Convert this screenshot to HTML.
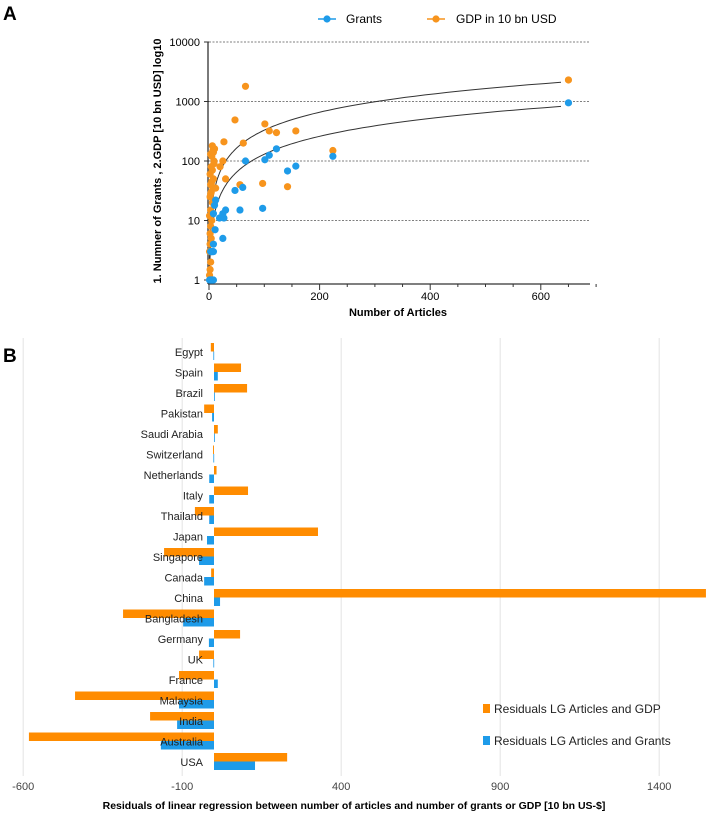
<!DOCTYPE html>
<html><head><meta charset="utf-8"><style>
body{margin:0;background:#fff;font-family:"Liberation Sans",sans-serif}
svg{display:block}
</style></head><body>
<svg id="chart" width="709" height="815" xmlns="http://www.w3.org/2000/svg">
<text x="3" y="20" font-size="19" font-weight="bold">A</text>
<text x="3" y="362" font-size="19" font-weight="bold">B</text>
<g id="pa"></g>
<g id="pb"></g>
</svg>
<script>
const NS="http://www.w3.org/2000/svg";
function mk(p,t,a,txt){const e=document.createElementNS(NS,t);for(const k in a)e.setAttribute(k,a[k]);if(txt!==undefined)e.textContent=txt;p.appendChild(e);return e;}

// Panel A data
const grantsX=[1,2,3,4,5,6,7,8,3,4,5,6,8,8,11,8,10,12,19,25,27,30,25,47,56,61,66,97,101,109,122,142,157,224,650];
const grantsY=[1,1,1,1,1,1,1,1,3,3,3,3,3,4,7,13,18,22,11,13,11,15,5,32,15,36,100,16,105,125,160,68,82,120,950];
const gdpX=[1,2,3,1,2,4,2,3,5,1,3,6,2,4,7,3,5,8,2,6,4,9,5,3,7,10,6,8,4,12,9,3,66,47,101,109,122,157,27,62,56,97,142,224,30,25,20,650];
const gdpY=[1.2,1.5,2,3,4,5,6,8,10,12,15,20,25,30,35,40,45,50,60,70,80,100,120,130,150,160,180,140,40,35,90,28,1800,490,420,320,300,320,210,200,40,42,37,150,50,100,80,2300];
const fitSlopes=[3.3,1.3];
const xTicksA=[0,200,400,600];
const yTicksA=[1,10,100,1000,10000];

const pa=document.getElementById('pa');
const ax=v=>209+v*0.553;
const ay=v=>280-59.5*Math.log10(v);
yTicksA.forEach(t=>{
  if(t>1){const g=mk(pa,'line',{x1:209,x2:590,y1:ay(t),y2:ay(t),stroke:'#555','stroke-width':0.8,'stroke-dasharray':'2,1.5'});
  
  }
  const tl=mk(pa,'text',{x:200,y:ay(t)+4,'font-size':11,'text-anchor':'end'},t);
  
  
  mk(pa,'line',{x1:204,x2:209,y1:ay(t),y2:ay(t),stroke:'#333','stroke-width':1});
});
mk(pa,'line',{x1:208,x2:208,y1:42,y2:284,stroke:'#333','stroke-width':1.3,});
mk(pa,'line',{x1:208,x2:590,y1:284,y2:284,stroke:'#333','stroke-width':1.3,});
for(let v=0;v<=700;v+=50){mk(pa,'line',{x1:ax(v),x2:ax(v),y1:284,y2:v%200==0?290:287,stroke:'#333'});}
xTicksA.forEach(t=>{const tl=mk(pa,'text',{x:ax(t),y:300,'font-size':11,'text-anchor':'middle'},t);
  
  });
mk(pa,'text',{x:398,y:316,'font-size':11,'font-weight':'bold','text-anchor':'middle',},'Number of Articles');
mk(pa,'text',{x:0,y:0,'font-size':11,'font-weight':'bold','text-anchor':'middle',transform:'translate(161,161) rotate(-90)',},'1. Numner of Grants , 2.GDP [10 bn USD] log10');
fitSlopes.forEach(s=>{let d='';for(let x=0.3;x<=655;x*=1.05){const y=Math.max(1,s*x);d+=(d?'L':'M')+ax(x).toFixed(1)+','+ay(y).toFixed(1);}
  const p=mk(pa,'path',{d:d,fill:'none',stroke:'#333','stroke-width':1});
  
  });
gdpX.forEach((x,i)=>{const c=mk(pa,'circle',{cx:ax(x),cy:ay(gdpY[i]),r:3.6,fill:'#f7941d'});
  
  });
grantsX.forEach((x,i)=>{const c=mk(pa,'circle',{cx:ax(x),cy:ay(grantsY[i]),r:3.6,fill:'#1e9be9'});
  
  });
// legend A
mk(pa,'line',{x1:318,x2:336,y1:19,y2:19,stroke:'#1e9be9','stroke-width':1.5});
mk(pa,'circle',{cx:327,cy:19,r:3.6,fill:'#1e9be9',});
mk(pa,'text',{x:346,y:23,'font-size':12,},'Grants');
mk(pa,'line',{x1:427,x2:445,y1:19,y2:19,stroke:'#f7941d','stroke-width':1.5});
mk(pa,'circle',{cx:436,cy:19,r:3.6,fill:'#f7941d',});
mk(pa,'text',{x:456,y:23,'font-size':12,},'GDP in 10 bn USD');

// Panel B data
const countries=["Egypt","Spain","Brazil","Pakistan","Saudi Arabia","Switzerland","Netherlands","Italy","Thailand","Japan","Singapore","Canada","China","Bangladesh","Germany","UK","France","Malaysia","India","Australia","USA"];
const residGDP=[-10,85,104,-31,12,-3,8,107,-60,327,-157,-9,1547,-286,82,-47,-110,-437,-201,-582,230];
const residGrants=[-2,12,1,-6,0,-2,-15,-15,-15,-22,-47,-31,19,-97,-16,-2,12,-110,-116,-167,129];
const xTicksB=[-600,-100,400,900,1400];

const pb=document.getElementById('pb');
const bx=v=>214+v*0.318;
const rowY=i=>352+i*20.5;
xTicksB.forEach(t=>{const g=mk(pb,'line',{x1:bx(t),x2:bx(t),y1:338,y2:776,stroke:'#e3e3e3','stroke-width':1});
  
  
  const tl=mk(pb,'text',{x:bx(t),y:790,'font-size':11,fill:'#444','text-anchor':'middle'},t);
  
  });
countries.forEach((c,i)=>{const y=rowY(i);
  const o=residGDP[i],b=residGrants[i];
  const r1=mk(pb,'rect',{x:Math.min(bx(0),bx(o)),y:y-9,width:Math.max(0.8,Math.abs(bx(o)-bx(0))),height:8.5,fill:'#ff8c00'});
  
  
  const r2=mk(pb,'rect',{x:Math.min(bx(0),bx(b)),y:y-0.5,width:Math.max(0.8,Math.abs(bx(b)-bx(0))),height:8.5,fill:'#1e9be9'});
  
  
  const t=mk(pb,'text',{x:203,y:y+4,'font-size':11,fill:'#222','text-anchor':'end'},c);
  
  
});
mk(pb,'rect',{x:483,y:704,width:7,height:9,fill:'#ff8c00',});
mk(pb,'text',{x:494,y:713,'font-size':12,fill:'#222',},'Residuals LG Articles and GDP');
mk(pb,'rect',{x:483,y:736,width:7,height:9,fill:'#1e9be9',});
mk(pb,'text',{x:494,y:745,'font-size':12,fill:'#222',},'Residuals LG Articles and Grants');
mk(pb,'text',{x:354,y:809,'font-size':10.5,'font-weight':'bold','text-anchor':'middle',},'Residuals of linear regression between number of articles and number of grants or GDP [10 bn US-$]');
</script>
</body></html>
